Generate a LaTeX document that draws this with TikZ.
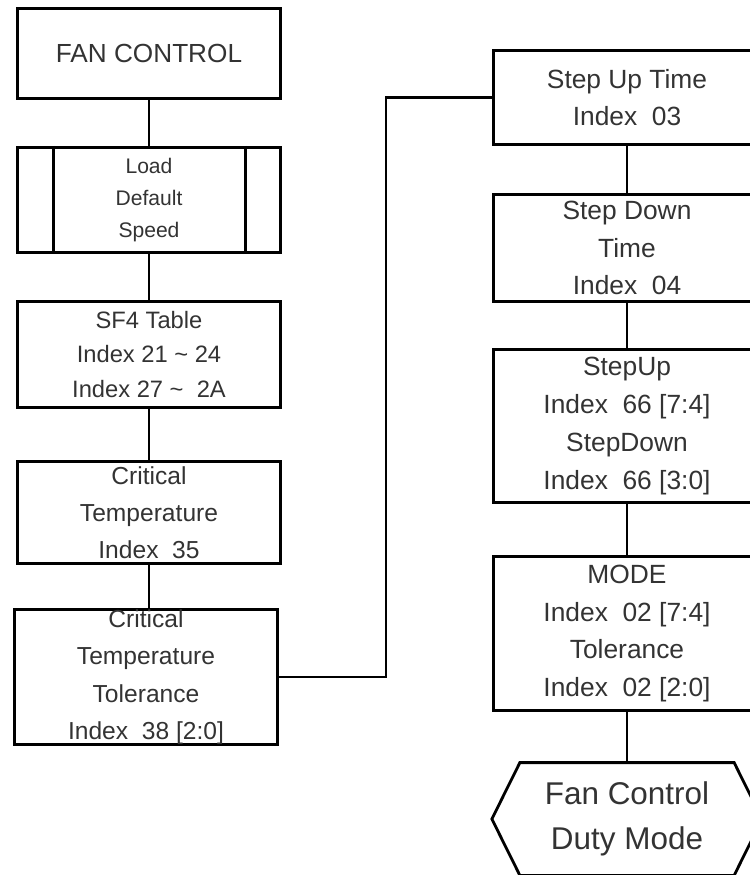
\documentclass[tikz,border=0pt]{standalone}
\usepackage{fontspec}
\setmainfont{Liberation Sans}
\definecolor{txtgray}{HTML}{333333}
\begin{document}
\begin{tikzpicture}[x=0.02cm, y=-0.02cm,
		box/.style={draw, line width=1.6pt, align=center, inner sep=0pt, text=txtgray},
		lbox/.style={box, minimum width=5.27cm},
		rbox/.style={box, minimum width=5.35cm, font=\fontsize{15}{21.5}\selectfont},
		link/.style={line width=1.6pt}]
		\useasboundingbox (0,0) rectangle (750,875);
		\clip (0,0) rectangle (750,875);
		
		\node[lbox, minimum height=1.81cm, font=\fontsize{14.9}{17}\selectfont] (fan) at (149,53.5) {FAN CONTROL};
		\node[lbox, minimum height=2.11cm, font=\fontsize{12}{18.1}\selectfont] (load) at (149,200) {Load\\Default\\Speed};
		\node[lbox, minimum height=2.13cm, font=\fontsize{13.5}{19.8}\selectfont] (sf4) at (149,354.5) {SF4 Table\\Index 21 \textasciitilde{} 24\\Index 27 \textasciitilde{}\ \ 2A};
		\node[lbox, minimum height=2.05cm, font=\fontsize{14}{21}\selectfont] (crit) at (149,512.5) {Critical\\Temperature\\Index\ \ 35};
		\node[lbox, minimum height=2.55cm, font=\fontsize{14}{21.3}\selectfont] (tol) at (146,677) {Critical\\Temperature\\Tolerance\\Index\ \ 38 [2:0]};
		
		\draw[link] ([xshift=0.76cm]load.north west) -- ([xshift=0.76cm]load.south west);
		\draw[link] ([xshift=-0.74cm]load.north east) -- ([xshift=-0.74cm]load.south east);
		
		\node[rbox, minimum height=1.89cm] (up) at (627,97.5) {Step Up Time\\Index\ \ 03};
		\node[rbox, minimum height=2.15cm] (down) at (627,248) {Step Down\\Time\\Index\ \ 04};
		\node[rbox, minimum height=3.07cm] (updown) at (627,426) {StepUp\\Index\ \ 66 [7:4]\\StepDown\\Index\ \ 66 [3:0]};
		\node[rbox, minimum height=3.09cm] (mode) at (627,633.5) {MODE\\Index\ \ 02 [7:4]\\Tolerance\\Index\ \ 02 [2:0]};
		\node[rbox, draw=none, minimum height=2.2cm, font=\fontsize{17.9}{26}\selectfont] (duty) at (627,819) {Fan Control\\Duty Mode};
		\draw[link] (duty.west) -- ([xshift=0.56cm]duty.north west) -- ([xshift=-0.56cm]duty.north east)
			-- (duty.east) -- ([xshift=-0.56cm]duty.south east) -- ([xshift=0.56cm]duty.south west) -- cycle;
		
		\draw[link] (fan) -- (load);
		\draw[link] (load) -- (sf4);
		\draw[link] (sf4) -- (crit);
		\draw[link] (crit.south) -- (crit.south |- tol.north);
		
		\coordinate (bend) at (386,677);
		\draw[link] (tol.east) -- (bend) |- (up.west);
		
		\draw[link] (up) -- (down);
		\draw[link] (down) -- (updown);
		\draw[link] (updown) -- (mode);
		\draw[link] (mode) -- (duty);
	\end{tikzpicture}
\end{document}
